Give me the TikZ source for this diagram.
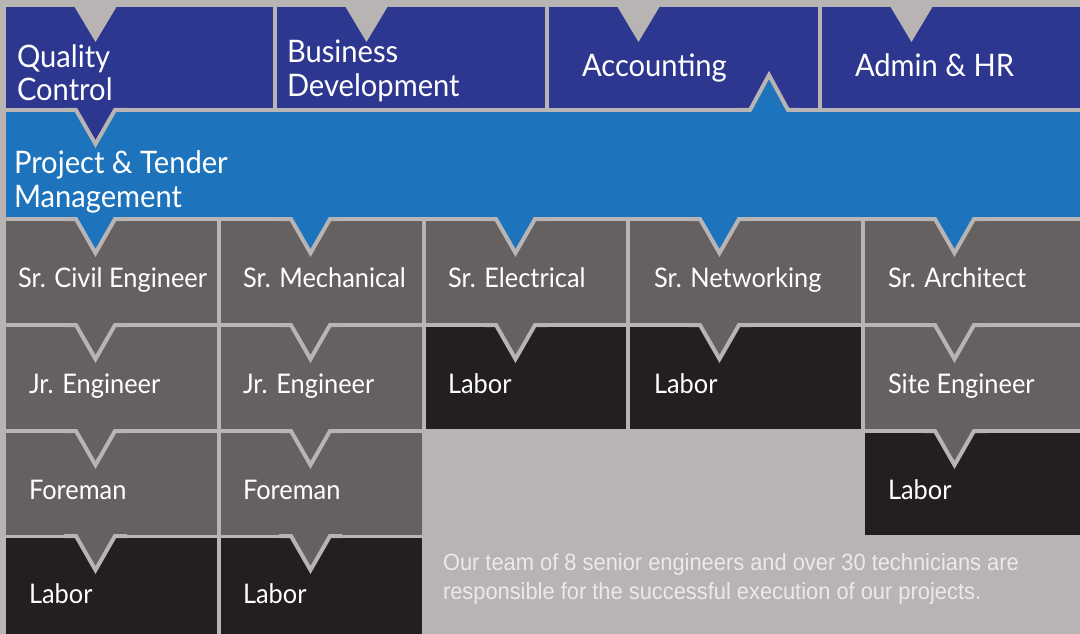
\documentclass[tikz,border=0pt]{standalone}
\usepackage{fontspec}
\setmainfont{Lato}[FakeStretch=0.94]
\newfontfamily\notefont[FakeStretch=0.93]{Liberation Sans}
\usetikzlibrary{calc}
\definecolor{bgc}{RGB}{184,180,179}
\definecolor{navy}{RGB}{45,55,144}
\definecolor{blu}{RGB}{30,116,188}
\definecolor{grc}{RGB}{101,97,96}
\definecolor{drk}{RGB}{35,31,32}
\definecolor{notec}{RGB}{236,234,233}
\newcommand\topsize{\fontsize{31}{36}\selectfont}
\newcommand\rowsize{\fontsize{27}{32}\selectfont}
\newcommand\notesize{\fontsize{23.5}{28}\selectfont}
\tikzset{
  cellbox/.style={anchor=north west, inner sep=0pt, outer sep=0pt, draw=none},
  lbl/.style={anchor=base west, inner sep=0pt, outer sep=0pt, text=white},
  vline/.style={draw=bgc, line width=4pt, line join=miter, line cap=butt},
}
% V-shaped link from the parent above into a child cell
\newcommand\vlink[2]{%
  \fill[#2] ($(#1.north west)+(70,-5)$) -- ($(#1.north west)+(70,-2)$) -- ($(#1.north west)+(89.5,32)$) -- ($(#1.north west)+(109,-2)$) -- ($(#1.north west)+(109,-5)$) -- cycle;
  \draw[vline] ($(#1.north west)+(58,-2)$) -- ($(#1.north west)+(70,-2)$) -- ($(#1.north west)+(89.5,32)$) -- ($(#1.north west)+(109,-2)$) -- ($(#1.north west)+(121,-2)$);
}
\newcommand\topnotch[1]{%
  \fill[bgc] ($(#1.north west)+(68,-1)$) -- ($(#1.north west)+(89.5,35)$) -- ($(#1.north west)+(111,-1)$) -- cycle;
}
\begin{document}
\begin{tikzpicture}[x=1pt,y=-1pt]
\path[use as bounding box, fill=bgc] (0,0) rectangle (1080,634);
% top row
\node[cellbox, fill=navy, minimum width=267pt, minimum height=101pt] (qc) at (6,7) {};
\node[cellbox, fill=navy, minimum width=268pt, minimum height=101pt] (bd) at (277,7) {};
\node[cellbox, fill=navy, minimum width=269pt, minimum height=101pt] (ac) at (549,7) {};
\node[cellbox, fill=navy, minimum width=258pt, minimum height=101pt] (ah) at (822,7) {};
% blue band
\node[cellbox, fill=blu, minimum width=1074pt, minimum height=105pt] (pm) at (6,112) {};
% row 2
\node[cellbox, fill=grc, minimum width=211pt, minimum height=102pt] (sc) at (6,221) {};
\node[cellbox, fill=grc, minimum width=201pt, minimum height=102pt] (sm) at (221,221) {};
\node[cellbox, fill=grc, minimum width=200pt, minimum height=102pt] (se) at (426,221) {};
\node[cellbox, fill=grc, minimum width=231pt, minimum height=102pt] (sn) at (630,221) {};
\node[cellbox, fill=grc, minimum width=215pt, minimum height=102pt] (sa) at (865,221) {};
% row 3
\node[cellbox, fill=grc, minimum width=211pt, minimum height=102pt] (ja) at (6,327) {};
\node[cellbox, fill=grc, minimum width=201pt, minimum height=102pt] (jb) at (221,327) {};
\node[cellbox, fill=drk, minimum width=200pt, minimum height=102pt] (le) at (426,327) {};
\node[cellbox, fill=drk, minimum width=231pt, minimum height=102pt] (ln) at (630,327) {};
\node[cellbox, fill=grc, minimum width=215pt, minimum height=102pt] (st) at (865,327) {};
% row 4
\node[cellbox, fill=grc, minimum width=211pt, minimum height=102pt] (fa) at (6,433) {};
\node[cellbox, fill=grc, minimum width=201pt, minimum height=102pt] (fb) at (221,433) {};
\node[cellbox, fill=drk, minimum width=215pt, minimum height=102pt] (ls) at (865,433) {};
% row 5
\node[cellbox, fill=drk, minimum width=211pt, minimum height=96pt] (la) at (6,538) {};
\node[cellbox, fill=drk, minimum width=201pt, minimum height=96pt] (lb) at (221,538) {};
% notches of the top row
\topnotch{qc}\topnotch{bd}\topnotch{ac}\topnotch{ah}
% links
\vlink{pm}{navy}
\vlink{sc}{blu}\vlink{sm}{blu}\vlink{se}{blu}\vlink{sn}{blu}\vlink{sa}{blu}
\vlink{ja}{grc}\vlink{jb}{grc}\vlink{le}{grc}\vlink{ln}{grc}\vlink{st}{grc}
\vlink{fa}{grc}\vlink{fb}{grc}\vlink{ls}{grc}
\vlink{la}{grc}\vlink{lb}{grc}
% upward link from the band into Accounting
\fill[blu] ($(ac.south west)+(201,5)$) -- ($(ac.south west)+(201,2)$) -- ($(ac.south west)+(220,-33)$) -- ($(ac.south west)+(239,2)$) -- ($(ac.south west)+(239,5)$) -- cycle;
\draw[vline] ($(ac.south west)+(189,2)$) -- ($(ac.south west)+(201,2)$) -- ($(ac.south west)+(220,-33)$) -- ($(ac.south west)+(239,2)$) -- ($(ac.south west)+(251,2)$);
% labels
\node[lbl, font=\topsize] (tqc1) at (17,68) {Quality};
\node[lbl, font=\topsize] (tqc2) at (17,100) {Control};
\node[lbl, font=\topsize] (tbd1) at (287,63) {Business};
\node[lbl, font=\topsize] (tbd2) at (287,96) {Development};
\node[lbl, font=\topsize] (tac) at (582,77) {Accounting};
\node[lbl, font=\topsize] (tah) at (855,77) {Admin \& HR};
\node[lbl, font=\topsize] (tpm1) at (14,173) {Project \& Tender};
\node[lbl, font=\topsize] (tpm2) at (14,207) {Management};
\node[lbl, font=\rowsize] (tsc) at (18,287) {Sr. Civil Engineer};
\node[lbl, font=\rowsize] (tsm) at (243,287) {Sr. Mechanical};
\node[lbl, font=\rowsize] (tse) at (448,287) {Sr. Electrical};
\node[lbl, font=\rowsize] (tsn) at (654,287) {Sr. Networking};
\node[lbl, font=\rowsize] (tsa) at (888,287) {Sr. Architect};
\node[lbl, font=\rowsize] (tja) at (29,393) {Jr. Engineer};
\node[lbl, font=\rowsize] (tjb) at (243,393) {Jr. Engineer};
\node[lbl, font=\rowsize] (tle) at (448,393) {Labor};
\node[lbl, font=\rowsize] (tln) at (654,393) {Labor};
\node[lbl, font=\rowsize] (tst) at (888,393) {Site Engineer};
\node[lbl, font=\rowsize] (tfa) at (29,499) {Foreman};
\node[lbl, font=\rowsize] (tfb) at (243,499) {Foreman};
\node[lbl, font=\rowsize] (tls) at (888,499) {Labor};
\node[lbl, font=\rowsize] (tla) at (29,603) {Labor};
\node[lbl, font=\rowsize] (tlb) at (243,603) {Labor};
\node[lbl, text=notec, font=\notefont\notesize] (note1) at (443,570) {Our team of 8 senior engineers and over 30 technicians are};
\node[lbl, text=notec, font=\notefont\notesize] (note2) at (443,599) {responsible for the successful execution of our projects.};
\end{tikzpicture}
\end{document}
